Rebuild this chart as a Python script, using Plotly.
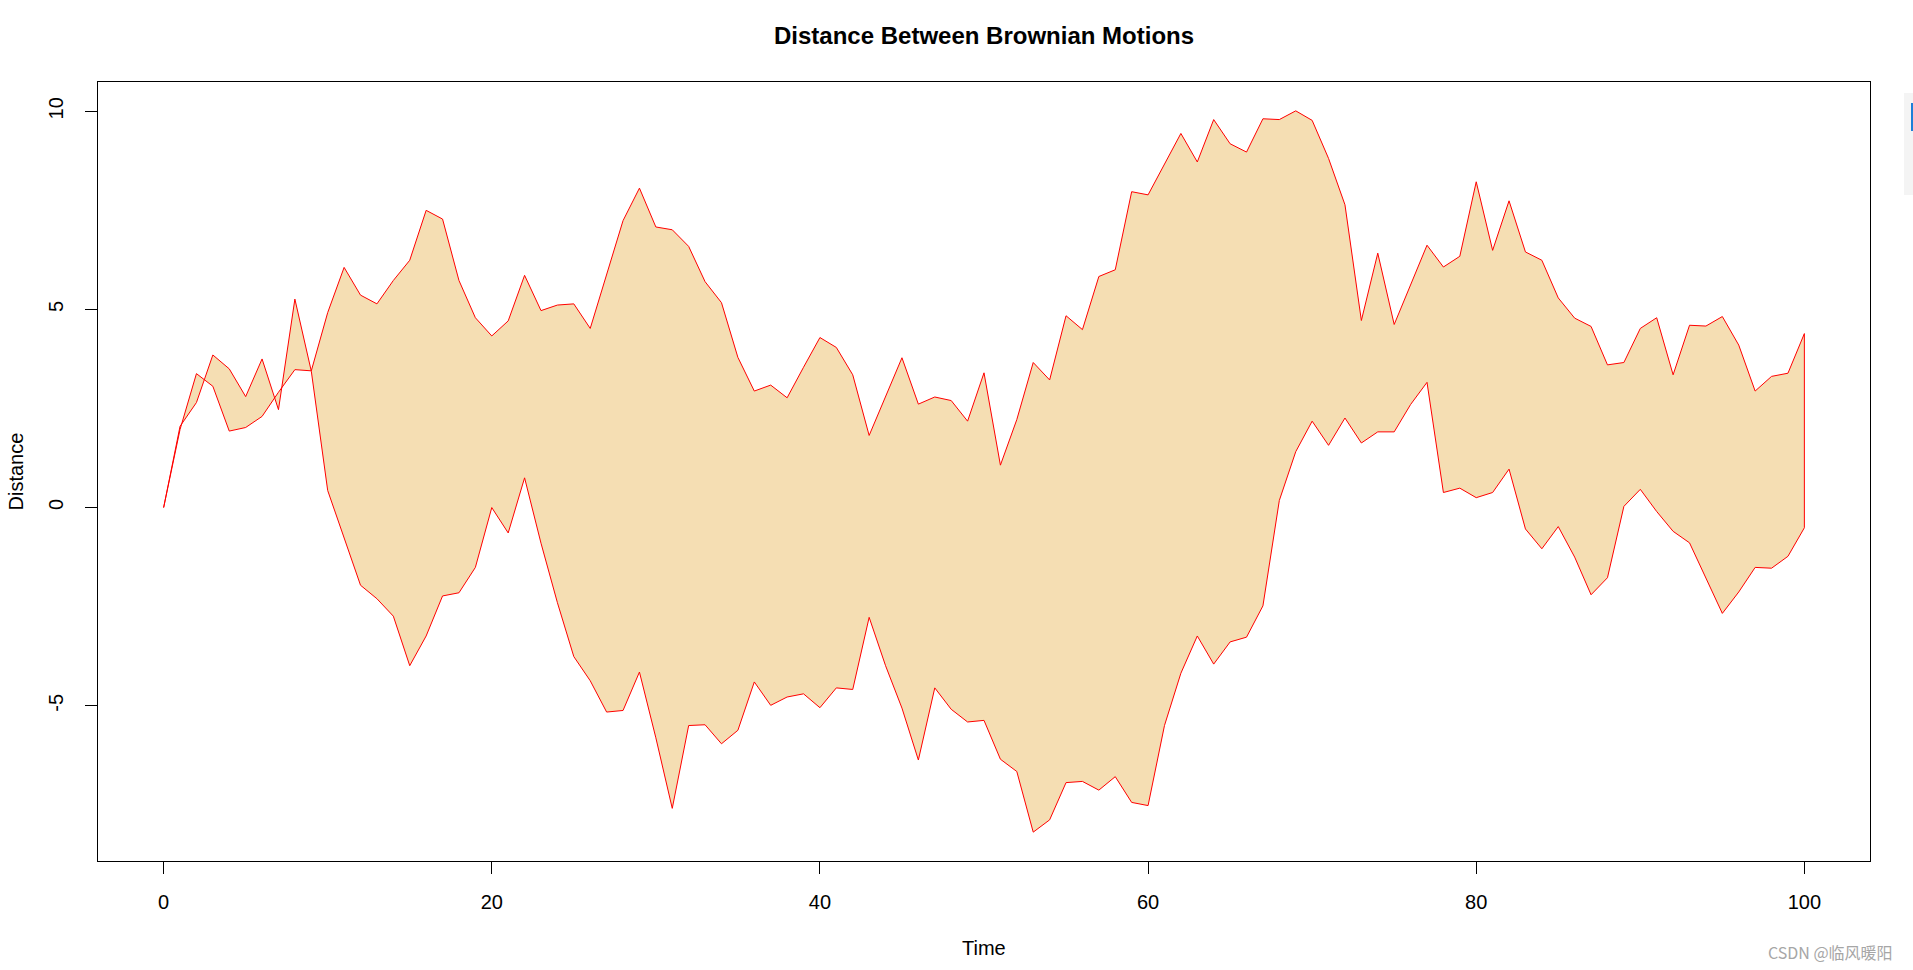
import plotly.graph_objects as go

# ---- data ----
time = list(range(0, 101))

motion_a = [
    0.00, 1.97, 3.38, 3.06, 1.93, 2.02, 2.30, 2.91, 3.48, 3.45,
    4.92, 6.06, 5.36, 5.14, 5.73, 6.24, 7.50, 7.28, 5.73, 4.79,
    4.33, 4.71, 5.86, 4.97, 5.11, 5.14, 4.52, 5.86, 7.24, 8.06,
    7.08, 7.01, 6.59, 5.70, 5.17, 3.79, 2.94, 3.09, 2.77, 3.54,
    4.29, 4.04, 3.35, 1.82, 2.80, 3.78, 2.61, 2.79, 2.70, 2.18,
    3.40, 1.07, 2.22, 3.66, 3.22, 4.84, 4.49, 5.83, 6.00, 7.97,
    7.89, 8.68, 9.44, 8.72, 9.79, 9.18, 8.97, 9.81, 9.79, 10.01,
    9.77, 8.81, 7.64, 4.72, 6.42, 4.62, 5.63, 6.62, 6.07, 6.34,
    8.22, 6.49, 7.74, 6.45, 6.24, 5.29, 4.78, 4.57, 3.60, 3.66,
    4.52, 4.79, 3.35, 4.60, 4.58, 4.82, 4.10, 2.94, 3.31, 3.39,
    4.39,
]

motion_b = [
    0.00, 2.05, 2.65, 3.85, 3.50, 2.80, 3.75, 2.47, 5.26, 3.44,
    0.43, -0.79, -1.96, -2.30, -2.74, -3.99, -3.24, -2.23, -2.15, -1.51,
    0.00, -0.64, 0.75, -0.90, -2.40, -3.76, -4.37, -5.16, -5.12, -4.15,
    -5.81, -7.59, -5.50, -5.48, -5.96, -5.62, -4.40, -4.99, -4.78, -4.70,
    -5.05, -4.55, -4.59, -2.77, -3.99, -5.06, -6.37, -4.55, -5.09, -5.41,
    -5.37, -6.35, -6.66, -8.19, -7.88, -6.94, -6.91, -7.13, -6.79, -7.44,
    -7.52, -5.50, -4.18, -3.24, -3.95, -3.39, -3.27, -2.48, 0.18, 1.41,
    2.18, 1.57, 2.26, 1.63, 1.91, 1.91, 2.60, 3.16, 0.38, 0.49,
    0.25, 0.38, 0.97, -0.54, -1.04, -0.48, -1.25, -2.20, -1.77, 0.03,
    0.46, -0.10, -0.60, -0.89, -1.79, -2.67, -2.13, -1.51, -1.53, -1.23,
    -0.51,
]

x_ticks = [0, 20, 40, 60, 80, 100]
x_tick_labels = ["0", "20", "40", "60", "80", "100"]
y_ticks = [-5, 0, 5, 10]
y_tick_labels = ["-5", "0", "5", "10"]

title_text = "Distance Between Brownian Motions"
x_title = "Time"
y_title = "Distance"
watermark = "CSDN @临风暖阳"

# ---- layout geometry (pixels) ----
W, H = 1913, 970
L, R, T, B = 98, 43, 82, 109
PW, PH = W - L - R, H - T - B

FONT = "Liberation Sans, Arial, sans-serif"

# R-style 4% axis extension
xlo, xhi = min(time), max(time)
xpad = 0.04 * (xhi - xlo)
allv = motion_a + motion_b
ylo, yhi = min(allv), max(allv)
ypad = 0.04 * (yhi - ylo)

poly_x = time + time[::-1]
poly_y = motion_a + motion_b[::-1]

fig = go.Figure()
fig.add_trace(go.Scatter(
    x=poly_x, y=poly_y,
    mode="lines",
    fill="toself",
    fillcolor="#F5DEB3",
    line=dict(color="#FF0000", width=1),
    hoverinfo="skip",
    showlegend=False,
))

axis_common = dict(
    showgrid=False, zeroline=False,
    showline=True, mirror=True, linecolor="black", linewidth=1,
    ticks="outside", ticklen=12, tickwidth=1, tickcolor="black",
    tickfont=dict(family=FONT, size=20, color="black"),
)

fig.update_layout(
    width=W, height=H,
    margin=dict(l=L, r=R, t=T, b=B, pad=0),
    paper_bgcolor="white", plot_bgcolor="white",
    showlegend=False,
    xaxis=dict(range=[xlo - xpad, xhi + xpad], tickmode="array",
               tickvals=x_ticks, ticktext=x_tick_labels,
               ticklabelstandoff=11, **axis_common),
    yaxis=dict(range=[ylo - ypad, yhi + ypad], tickmode="array",
               tickvals=y_ticks, ticktext=y_tick_labels,
               tickangle=-90, ticklabelstandoff=14, **axis_common),
    annotations=[
        dict(text="<b>" + title_text + "</b>", xref="paper", yref="paper",
             x=0.5, y=1 + 47 / PH, xanchor="center", yanchor="middle",
             showarrow=False, font=dict(family=FONT, size=24, color="black")),
        dict(text=x_title, xref="paper", yref="paper",
             x=0.5, y=-87 / PH, xanchor="center", yanchor="middle",
             showarrow=False, font=dict(family=FONT, size=20, color="black")),
        dict(text=y_title, xref="paper", yref="paper",
             x=-83 / PW, y=0.5, xanchor="center", yanchor="middle",
             textangle=-90, showarrow=False,
             font=dict(family=FONT, size=20, color="black")),
        dict(text=watermark, xref="paper", yref="paper",
             x=(1830 - L) / PW, y=-(951.5 - (H - B)) / PH,
             xanchor="center", yanchor="middle", showarrow=False,
             font=dict(family="Noto Sans CJK SC, Noto Sans, sans-serif",
                       size=16, color="#A6A6A6")),
    ],
    shapes=[
        dict(type="rect", xref="paper", yref="paper",
             x0=(1904 - L) / PW, x1=(W - L) / PW,
             y0=1 - (195 - T) / PH, y1=1 - (93 - T) / PH,
             fillcolor="#F4F4F4", line=dict(width=0), layer="above"),
        dict(type="rect", xref="paper", yref="paper",
             x0=(1911 - L) / PW, x1=(W - L) / PW,
             y0=1 - (131 - T) / PH, y1=1 - (103 - T) / PH,
             fillcolor="#1E7FD8", line=dict(width=0), layer="above"),
    ],
)

fig.write_html("out.html")
